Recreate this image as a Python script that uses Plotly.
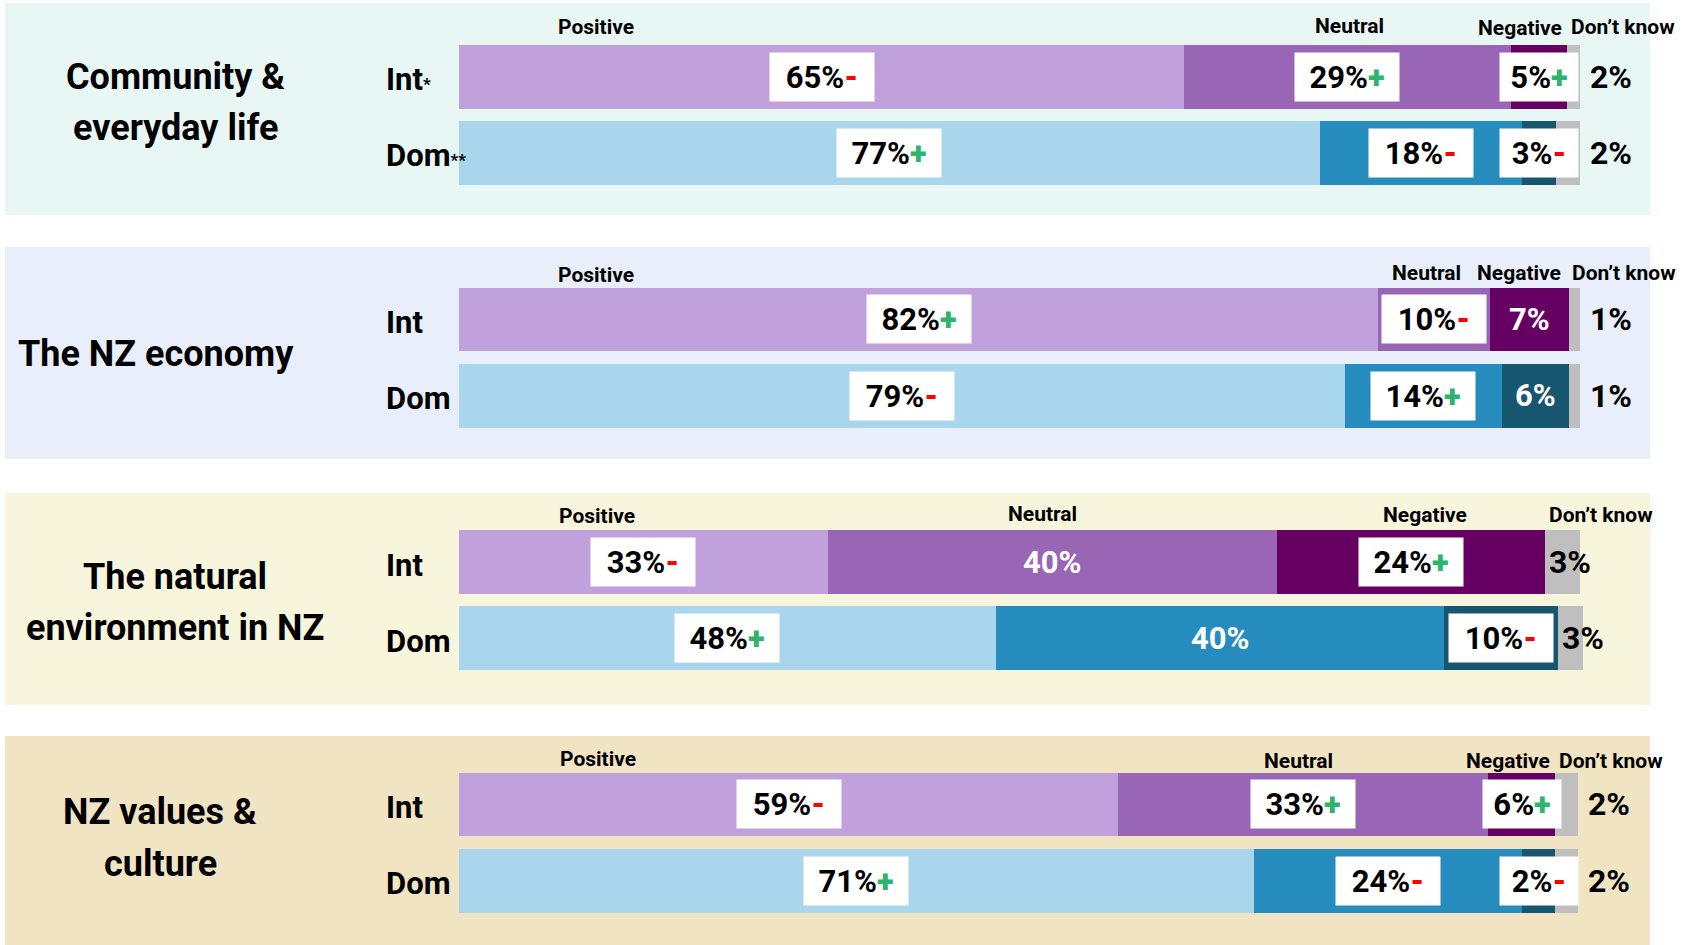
import plotly.graph_objects as go

W, H = 1683, 945
FONT = "Roboto, Open Sans, sans-serif"

# ---------------- data ----------------
panel_titles = [["Community &", "everyday life"], ["The NZ economy"],
                ["The natural", "environment in NZ"], ["NZ values &", "culture"]]
groups = ["Int", "Dom"]
group_labels = [["Int<span style='font-size:17px'>*</span>", "Dom<span style='font-size:17px'>**</span>"],
                ["Int", "Dom"], ["Int", "Dom"], ["Int", "Dom"]]
categories = ["Positive", "Neutral", "Negative", "Don’t know"]

# bar segment lengths (% of bar): positive, neutral, negative, don't know
int_vals = [[64.7, 29.1, 5.0, 1.2], [82.0, 10.0, 7.0, 1.0],
            [32.9, 40.1, 23.9, 3.1], [58.8, 33.0, 6.0, 2.0]]
dom_vals = [[76.8, 18.0, 3.1, 2.1], [79.0, 14.0, 6.0, 1.0],
            [47.9, 40.0, 10.1, 2.3], [70.9, 23.9, 3.0, 2.0]]
# printed percentages
int_labels = [[65, 29, 5, 2], [82, 10, 7, 1], [33, 40, 24, 3], [59, 33, 6, 2]]
dom_labels = [[77, 18, 3, 2], [79, 14, 6, 1], [48, 40, 10, 3], [71, 24, 2, 2]]
# significance markers for positive, neutral, negative
int_sig = [["-", "+", "+"], ["+", "-", ""], ["-", "", "+"], ["-", "+", "+"]]
dom_sig = [["+", "-", "-"], ["-", "+", ""], ["+", "", "-"], ["+", "-", "-"]]

# ---------------- styles ----------------
int_colors = ["#C0A1DC", "#9966B5", "#660062", "#BFBFBF"]
dom_colors = ["#A9D6EC", "#268CBD", "#17566F", "#BFBFBF"]
panel_colors = ["#E9F7F4", "#E8EFFA", "#F8F5DD", "#F1E4C3"]
GREEN, RED = "#2DB46E", "#FF0000"

panel_px = [(3, 215), (247, 459), (493, 705), (736, 945)]
bar_centers = [(77, 153), (319, 396), (562, 638), (804, 881)]
title_pos = [[(175, 77), (175, 128)], [(156, 354)], [(175, 577), (175, 628)], [(160, 812), (160, 864)]]
header_pos = [[(596, 27), (1349, 26), (1520, 28), (1623, 27)],
              [(596, 275), (1426, 273), (1519, 273), (1624, 273)],
              [(597, 516), (1042, 514), (1425, 515), (1601, 515)],
              [(598, 759), (1298, 761), (1508, 761), (1611, 761)]]
X_LEFT_PX, PX_PER_PCT = 459, 11.21
XMAX = 101


def px_x(p):
    return p / W


def px_y(p):
    return 1 - p / H


fig = go.Figure()
layout = dict(width=W, height=H, autosize=False, margin=dict(l=0, r=0, t=0, b=0),
              paper_bgcolor="white", plot_bgcolor="rgba(0,0,0,0)", barmode="stack",
              showlegend=False, font=dict(family=FONT, color="black"))
shapes, annotations = [], []

for i in range(4):
    n = "" if i == 0 else str(i + 1)
    xa, ya = "x" + n, "y" + n
    for k, cat in enumerate(categories):
        fig.add_trace(go.Bar(
            y=groups, x=[int_vals[i][k], dom_vals[i][k]], orientation="h",
            marker=dict(color=[int_colors[k], dom_colors[k]], line=dict(width=0)),
            width=0.83, xaxis=xa, yaxis=ya, name=cat, hoverinfo="skip"))
    top = bar_centers[i][0] - 38
    bot = bar_centers[i][1] + 38
    layout["xaxis" + n] = dict(domain=[px_x(X_LEFT_PX), px_x(X_LEFT_PX + PX_PER_PCT * XMAX)],
                               range=[0, XMAX], visible=False, anchor=ya, fixedrange=True)
    layout["yaxis" + n] = dict(domain=[px_y(bot), px_y(top)], range=[1.5, -0.5], type="category",
                               visible=False, anchor=xa, fixedrange=True)

    y0, y1 = panel_px[i]
    shapes.append(dict(type="rect", xref="paper", yref="paper", x0=px_x(5), x1=px_x(1650),
                       y0=px_y(y1), y1=px_y(y0), fillcolor=panel_colors[i],
                       line=dict(width=0), layer="below"))
    for txt, (tx, ty) in zip(panel_titles[i], title_pos[i]):
        annotations.append(dict(text=txt, xref="paper", yref="paper", x=px_x(tx), y=px_y(ty),
                                xanchor="center", yanchor="middle", showarrow=False,
                                font=dict(size=36, weight="bold", family=FONT)))
    for cat, (hx, hy) in zip(categories, header_pos[i]):
        annotations.append(dict(text=cat, xref="paper", yref="paper", x=px_x(hx), y=px_y(hy),
                                xanchor="center", yanchor="middle", showarrow=False,
                                font=dict(size=21, weight="bold", family=FONT)))
    for j, g in enumerate(groups):
        annotations.append(dict(text=group_labels[i][j], xref="paper", yref=ya, x=px_x(384), y=j,
                                xanchor="left", yanchor="middle", showarrow=False, yshift=-3,
                                font=dict(size=31, weight="bold", family=FONT)))
        vals = int_vals[i] if j == 0 else dom_vals[i]
        labs = int_labels[i] if j == 0 else dom_labels[i]
        sigs = int_sig[i] if j == 0 else dom_sig[i]
        cum = 0
        for k in range(3):
            mid = cum + vals[k] / 2
            cum += vals[k]
            s = sigs[k]
            if s:
                col = GREEN if s == "+" else RED
                sym = "+" if s == "+" else "-"
                txt = f"{labs[k]}%<span style='color:{col};font-weight:900'>{sym}</span>"
                annotations.append(dict(text=txt, xref=xa, yref=ya, x=mid, y=j,
                                        xanchor="center", yanchor="middle", showarrow=False,
                                        bgcolor="white", borderpad=0,
                                        width=104 if labs[k] >= 10 else 78, height=48,
                                        font=dict(size=31, weight="bold", family=FONT, color="black")))
            else:
                annotations.append(dict(text=f"{labs[k]}%", xref=xa, yref=ya, x=mid, y=j,
                                        xanchor="center", yanchor="middle", showarrow=False,
                                        font=dict(size=31, weight="bold", family=FONT, color="white")))
        # don't know label
        if vals[3] >= 2.2 and labs[3] >= 3:
            dx, sh = cum, 2
        else:
            dx, sh = cum + vals[3], 8
        annotations.append(dict(text=f"{labs[3]}%", xref=xa, yref=ya, x=dx, y=j,
                                xanchor="left", yanchor="middle", showarrow=False, xshift=sh,
                                font=dict(size=32, weight="bold", family=FONT, color="black")))

layout["shapes"] = shapes
layout["annotations"] = annotations
fig.update_layout(**layout)
fig.write_html("out.html", config={"displayModeBar": False},
               post_script="document.body.style.margin='0px';")
